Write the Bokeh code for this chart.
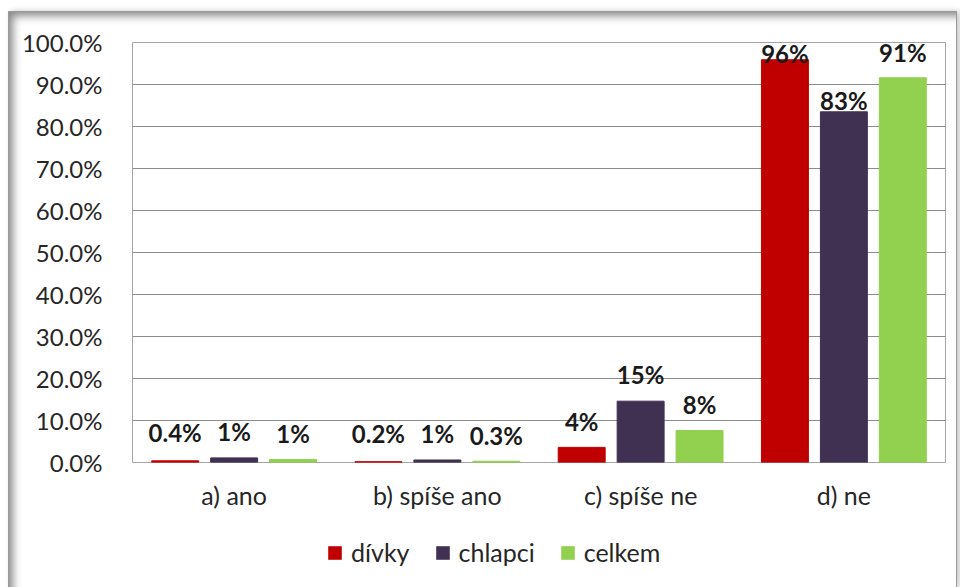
from bokeh.plotting import figure
from bokeh.layouts import column
from bokeh.models import (ColumnDataSource, FactorRange, Range1d, FixedTicker,
                          PrintfTickFormatter, Legend, LegendItem)
from bokeh.transform import dodge
from bokeh.core.properties import value
from bokeh.embed import file_html
from bokeh.resources import INLINE

categories = ["a) ano", "b) spíše ano", "c) spíše ne", "d) ne"]
series_names = ["dívky", "chlapci", "celkem"]
divky = [0.4, 0.2, 3.6, 95.9]
chlapci = [1.1, 0.6, 14.6, 83.5]
celkem = [0.7, 0.3, 7.6, 91.6]
divky_labels = ["0.4%", "0.2%", "4%", "96%"]
chlapci_labels = ["1%", "1%", "15%", "83%"]
celkem_labels = ["1%", "0.3%", "8%", "91%"]
y_ticks = [0, 10, 20, 30, 40, 50, 60, 70, 80, 90, 100]

# styling
colors = ["#C00000", "#403152", "#92D050"]
offsets = [-0.29, 0.0, 0.29]
bar_w = 0.231
label_lift = [[-28, -28, -26, -6], [-26, -26, -27, -11], [-26, -26, -26, -25]]
FONT = "Lato"

p = figure(frame_width=813, frame_height=420, x_range=FactorRange(*categories, range_padding=0),
           y_range=Range1d(0, 100), output_backend="svg", toolbar_location=None,
           min_border_left=123, min_border_right=11, min_border_top=30, min_border_bottom=60)
p.border_fill_color = None
p.background_fill_color = "white"
p.outline_line_color = "#a6a6a6"
p.outline_line_width = 1

values = [divky, chlapci, celkem]
labels = [divky_labels, chlapci_labels, celkem_labels]
for i in range(3):
    src = ColumnDataSource(dict(x=categories, y=values[i], t=labels[i], lift=label_lift[i]))
    p.vbar(x=dodge("x", offsets[i], range=p.x_range), top="y", width=bar_w,
           source=src, fill_color=colors[i], line_color=colors[i], line_width=1)
    p.text(x=dodge("x", offsets[i], range=p.x_range), y="y", text="t", source=src,
           y_offset="lift", text_align="center", text_baseline="middle",
           text_font=value(FONT), text_font_style="bold", text_font_size="24px",
           text_color="#1a1a1a")

p.xgrid.grid_line_color = None
p.ygrid.grid_line_color = "#8c8c8c"
p.ygrid.grid_line_width = 1
p.yaxis.ticker = FixedTicker(ticks=y_ticks)
p.yaxis.formatter = PrintfTickFormatter(format="%.1f%%")
for ax in (p.xaxis[0], p.yaxis[0]):
    ax.axis_line_color = None
    ax.major_tick_line_color = None
    ax.minor_tick_line_color = None
    ax.major_label_text_font = FONT
    ax.major_label_text_font_size = "24px"
    ax.major_label_text_color = "#262626"
p.xaxis.major_label_text_font_size = "25px"
p.yaxis.major_label_standoff = 24
p.xaxis.major_label_standoff = 11

# legend strip below the chart (legend-only renderers: zero-size, invisible marks)
lg = figure(width=947, height=65, x_range=Range1d(0, 1), y_range=Range1d(0, 1),
            output_backend="svg", toolbar_location=None, min_border=0)
lg.axis.visible = False
lg.grid.visible = False
lg.outline_line_color = None
lg.border_fill_color = None
lg.background_fill_color = None
items = []
for i in range(3):
    r = lg.vbar(x=[0], top=[0], width=0, fill_color=colors[i], line_color=colors[i], line_alpha=0)
    items.append(LegendItem(label=series_names[i], renderers=[r], index=0))
legend = Legend(items=items, orientation="horizontal", location=(194, 20))
legend.label_text_font = FONT
legend.label_text_font_size = "25px"
legend.label_text_color = "#262626"
legend.glyph_width = 17
legend.glyph_height = 17
legend.label_standoff = 8
legend.spacing = 24
legend.border_line_color = None
legend.background_fill_alpha = 0
legend.margin = 0
legend.padding = 6
lg.add_layout(legend, "center")

layout = column(p, lg, spacing=0)
layout.styles = {"background": "white", "border": "1px solid #9a9a9a",
                 "margin-left": "8px", "margin-top": "11px",
                 "box-shadow": "inset 7px 7px 9px -3px #8a8a8a, 3px 0px 6px #c8c8c8"}

open("out.html", "w").write(file_html(layout, INLINE))
